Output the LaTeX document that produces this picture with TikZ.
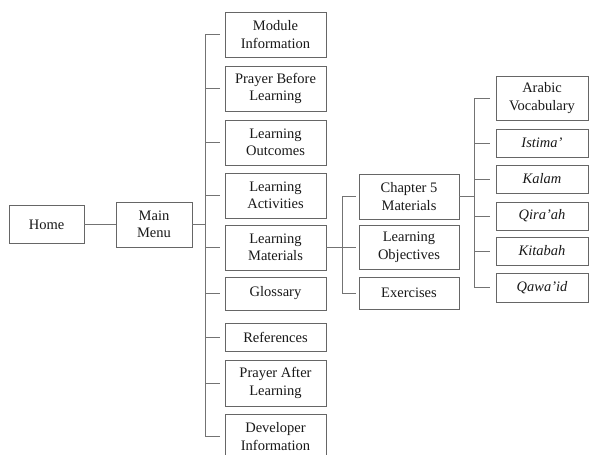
\documentclass[tikz,border=0pt]{standalone}
\usepackage{fontspec}
\setmainfont{Liberation Serif}
\begin{document}
\begin{tikzpicture}[x=1pt,y=-1pt,
  box/.style={draw=black!60, line width=0.8pt, fill=white, inner sep=0pt, align=center,
    font=\fontsize{14.5}{17.5}\selectfont, text=black!90},
  conn/.style={draw=black!55, line width=0.8pt}]
\useasboundingbox (0,0) rectangle (589,455);
% column 1
\node[box, minimum width=75pt, minimum height=38pt] (home) at (46.5,224.5) {Home};
\node[box, minimum width=76pt, minimum height=45pt] (main) at (154,224.5) {Main\\Menu};
% column 2
\begin{scope}[every node/.append style={box, minimum width=101pt}]
\node[minimum height=45pt] (mod) at (275.5,34.5) {Module\\Information};
\node[minimum height=45pt] (prb) at (275.5,88.5) {Prayer Before\\Learning};
\node[minimum height=45pt] (out) at (275.5,142.5) {Learning\\Outcomes};
\node[minimum height=45pt] (act) at (275.5,195.5) {Learning\\Activities};
\node[minimum height=45pt] (mat) at (275.5,247.5) {Learning\\Materials};
\node[minimum height=33pt] (glo) at (275.5,293.5) {Glossary};
\node[minimum height=28pt] (ref) at (275.5,337) {References};
\node[minimum height=46pt] (pra) at (275.5,383) {Prayer After\\Learning};
\node[minimum height=45pt] (dev) at (275.5,436.5) {Developer\\Information};
\end{scope}
% column 3
\begin{scope}[every node/.append style={box, minimum width=100pt}]
\node[minimum height=45pt] (ch5) at (409,196.5) {Chapter 5\\Materials};
\node[minimum height=44pt] (obj) at (409,247) {Learning\\Objectives};
\node[minimum height=32pt] (exe) at (409,293) {Exercises};
\end{scope}
% column 4
\begin{scope}[every node/.append style={box, minimum width=92pt}]
\node[minimum height=44pt] (arb) at (542,98) {Arabic\\Vocabulary};
\node[minimum height=28pt] (ist) at (542,143) {\itshape Istima’};
\node[minimum height=28pt] (kal) at (542,179) {\itshape Kalam};
\node[minimum height=28pt] (qir) at (542,216) {\itshape Qira’ah};
\node[minimum height=28pt] (kit) at (542,251) {\itshape Kitabah};
\node[minimum height=29pt] (qaw) at (542,287.5) {\itshape Qawa’id};
\end{scope}
% spines
\coordinate (s1) at (205,0);
\coordinate (s2) at (342,0);
\coordinate (s3) at (474,0);
% home -> main
\draw[conn] (home.east) -- (main.west);
% main menu spine
\draw[conn] (main.east) -- (main.east -| s1);
\draw[conn] (s1 |- mod.west) -- (s1 |- dev.west);
\foreach \n in {mod,prb,out,act,mat,glo,ref,pra,dev}
  \draw[conn] (s1 |- \n.west) -- ([xshift=-5pt]\n.west);
% materials spine
\draw[conn] (mat.east) -- (mat.east -| s2);
\draw[conn] (s2 |- ch5.west) -- (s2 |- exe.west);
\foreach \n in {ch5,obj,exe}
  \draw[conn] (s2 |- \n.west) -- ([xshift=-3pt]\n.west);
% chapter spine
\draw[conn] (ch5.east) -- (ch5.east -| s3);
\draw[conn] (s3 |- arb.west) -- (s3 |- qaw.west);
\foreach \n in {arb,ist,kal,qir,kit,qaw}
  \draw[conn] (s3 |- \n.west) -- ([xshift=-6pt]\n.west);
\end{tikzpicture}
\end{document}
